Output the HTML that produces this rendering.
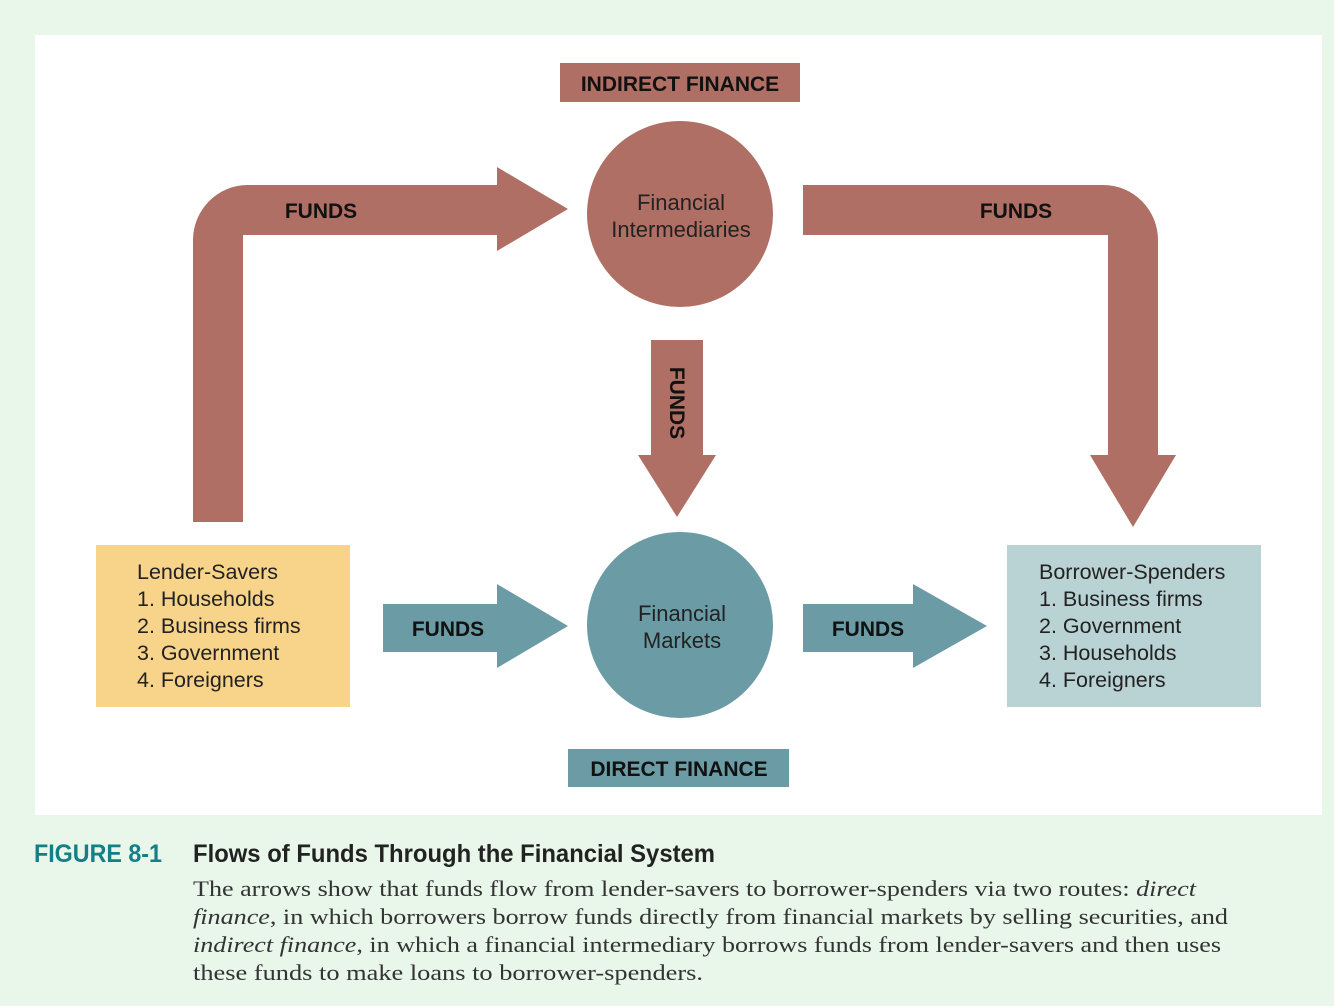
<!DOCTYPE html>
<html><head><style>
body{margin:0;background:#e8f7ea;width:1334px;height:1006px;overflow:hidden;position:relative;font-family:"Liberation Sans",sans-serif}
svg{position:absolute;left:0;top:0}
</style></head><body>
<svg width="1334" height="1006">
<rect x="35" y="35" width="1287" height="780" fill="#fff"/>
<g fill="#b06f64">
<path d="M193 522 V240 A55 55 0 0 1 248 185 H497 V167 L568 209 L497 251 V235 H243 V522 Z"/>
<path d="M803 185 H1103 A55 55 0 0 1 1158 240 V455 H1176 L1133 527 L1090 455 H1108 V235 H803 Z"/>
<path d="M651 340 H703 V455 H716 L677 517 L638 455 H651 Z"/>
<circle cx="680" cy="214" r="93"/>
<rect x="560" y="63" width="240" height="39"/>
</g>
<g fill="#6b9ca6">
<path d="M383 604 H497 V584 L568 626 L497 668 V652 H383 Z"/>
<path d="M803 604 H913 V584 L987 626 L913 668 V652 H803 Z"/>
<circle cx="680" cy="625" r="93"/>
<rect x="568" y="749" width="221" height="38"/>
</g>
<rect x="96" y="545" width="254" height="162" fill="#f8d48a"/>
<rect x="1007" y="545" width="254" height="162" fill="#b9d2d4"/>
<g font-family="Liberation Sans" font-weight="bold" font-size="21" fill="#111" text-anchor="middle">
<text x="680" y="91">INDIRECT FINANCE</text>
<text x="679" y="776">DIRECT FINANCE</text>
<text x="321" y="218">FUNDS</text>
<text x="1016" y="218">FUNDS</text>
<text x="448" y="636">FUNDS</text>
<text x="868" y="636">FUNDS</text>
<text transform="translate(670,403) rotate(90)">FUNDS</text>
</g>
<g font-family="Liberation Sans" font-size="22" fill="#222" text-anchor="middle">
<text x="681" y="210">Financial</text>
<text x="681" y="237">Intermediaries</text>
<text x="682" y="621">Financial</text>
<text x="682" y="648">Markets</text>
</g>
<g font-family="Liberation Sans" font-size="21.5" fill="#222">
<text x="137" y="579">Lender-Savers</text>
<text x="137" y="606">1. Households</text>
<text x="137" y="633">2. Business firms</text>
<text x="137" y="660">3. Government</text>
<text x="137" y="687">4. Foreigners</text>
<text x="1039" y="579">Borrower-Spenders</text>
<text x="1039" y="606">1. Business firms</text>
<text x="1039" y="633">2. Government</text>
<text x="1039" y="660">3. Households</text>
<text x="1039" y="687">4. Foreigners</text>
</g>
<g font-family="Liberation Sans" font-weight="bold" font-size="25">
<text x="34" y="862" fill="#137f86" textLength="128" lengthAdjust="spacingAndGlyphs">FIGURE 8-1</text>
<text x="193" y="862" fill="#222" textLength="522" lengthAdjust="spacingAndGlyphs">Flows of Funds Through the Financial System</text>
</g>
<g font-family="Liberation Serif" font-size="22" fill="#333">
<text x="193" y="896" textLength="1003" lengthAdjust="spacingAndGlyphs">The arrows show that funds flow from lender-savers to borrower-spenders via two routes: <tspan font-style="italic">direct</tspan></text>
<text x="193" y="924" textLength="1035" lengthAdjust="spacingAndGlyphs"><tspan font-style="italic">finance</tspan>, in which borrowers borrow funds directly from financial markets by selling securities, and</text>
<text x="193" y="952" textLength="1028" lengthAdjust="spacingAndGlyphs"><tspan font-style="italic">indirect finance</tspan>, in which a financial intermediary borrows funds from lender-savers and then uses</text>
<text x="193" y="980" textLength="510" lengthAdjust="spacingAndGlyphs">these funds to make loans to borrower-spenders.</text>
</g>
</svg>
</body></html>
